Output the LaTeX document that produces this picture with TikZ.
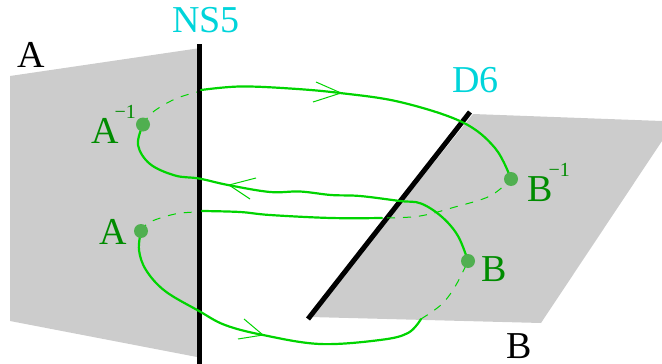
\documentclass[tikz,border=0pt]{standalone}
\usepackage{fontspec}
\setmainfont{Liberation Serif}
\definecolor{plane}{RGB}{204,204,204}
\definecolor{curve}{RGB}{0,212,0}
\definecolor{dotg}{RGB}{80,175,80}
\definecolor{txtg}{RGB}{0,140,0}
\definecolor{txtc}{RGB}{0,212,218}
\newcommand{\supm}{\kern-4pt\raisebox{25pt}{\fontsize{20}{20}\selectfont −1}}
\tikzset{
  x=1pt,y=-1pt,
  planeshape/.style={fill=plane,draw=none},
  brane/.style={draw=black,line width=5pt},
  strand/.style={draw=curve,line width=2.2pt,line cap=round,line join=round},
  hidden/.style={draw=curve,line width=1pt,dash pattern=on 8pt off 8pt},
  barb/.style={draw=curve,line width=1pt},
  spot/.style={circle,fill=dotg,minimum size=14pt,inner sep=0pt},
  lab/.style={anchor=base west,inner sep=0pt,font=\fontsize{38}{38}\selectfont},
  labblack/.style={lab,text=black},
  labgreen/.style={lab,text=txtg},
  labcyan/.style={lab,text=txtc},
}
\begin{document}
\begin{tikzpicture}
\useasboundingbox (0,0) rectangle (662,364);
% planes
\fill[planeshape] (10,76) -- (197,48.5) -- (197,357) -- (10,321) -- cycle;
\fill[planeshape] (473,114) -- (662,121) -- (662,141) -- (541,323) -- (310,317) -- cycle;
% branes
\coordinate (nsT) at (199,44);
\coordinate (nsB) at (199,364);
\coordinate (dT) at (470,112);
\coordinate (dB) at (308,319);
\draw[brane] (nsT) -- (nsB);
\draw[brane] (dT) -- (dB);
% markers
\coordinate (pAi) at (143,124.5);
\coordinate (pA) at (141,231);
\coordinate (pBi) at (511,179);
\coordinate (pB) at (468,261);
% curves
\draw[strand] plot[smooth,tension=0.6] coordinates {(201,90) (240,86.5) (290,88.5) (340,93) (400,102) (462,122) (495,148) (pBi)};
\draw[strand] plot[smooth,tension=0.6] coordinates {(pAi) (138,145) (150,164) (175,175.5) (199,178.5) (228,185) (270,192) (300,191.5) (331,195) (360,196) (400,201) (421,203.5) (442,217) (458,236) (pB)};
\draw[strand] plot[smooth,tension=0.6] coordinates {(pA) (139,250) (146,270) (165,291) (199,311) (225,325) (263,335) (320,344) (380,340) (408,333) (421,319)};
\draw[strand] plot[smooth,tension=0.6] coordinates {(202,211) (240,212) (270,215) (331,218) (382,218)};
\draw[hidden] plot[smooth,tension=0.6] coordinates {(pAi) (153,112) (175,99) (197,92)};
\draw[hidden] plot[smooth,tension=0.6] coordinates {(pA) (150,222) (175,214) (197,212)};
\draw[hidden] plot[smooth,tension=0.6] coordinates {(387,218) (420,216) (455,207) (490,196) (pBi)};
\draw[hidden] plot[smooth,tension=0.6] coordinates {(421,319) (442,304) (456,285) (pB)};
% arrowheads
\draw[barb] (316,82) -- (341,93) -- (313,102);
\draw[barb] (256,178) -- (229,185) -- (250,199);
\draw[barb] (244,319) -- (263,335) -- (238,339);
% dots
\node[spot] (dAi) at (pAi) {};
\node[spot] (dA) at (pA) {};
\node[spot] (dBi) at (pBi) {};
\node[spot] (dB) at (pB) {};
% labels
\node[labcyan] (ns) at (172,32) {NS5};
\node[labcyan] (d6) at (452,92) {D6};
\node[labblack] (topA) at (17,67) {A};
\node[labblack] (botB) at (506,358) {B};
\node[labgreen] (lAi) at (91,143) {A\supm};
\node[labgreen] (lA) at (99,244) {A};
\node[labgreen] (lBi) at (527,201) {B\supm};
\node[labgreen] (lB) at (481,281) {B};
\end{tikzpicture}
\end{document}
